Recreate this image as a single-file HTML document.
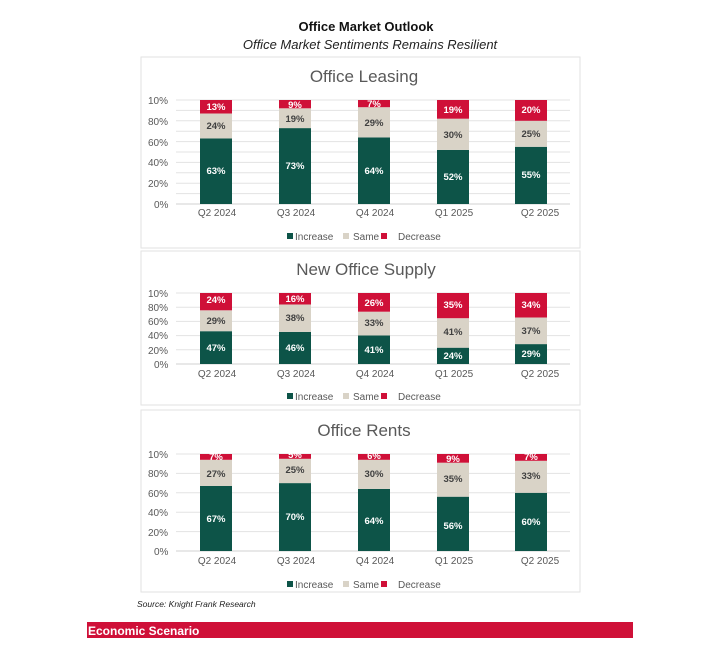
<!DOCTYPE html>
<html><head><meta charset="utf-8"><style>
html,body{margin:0;padding:0;background:#fff;}
svg{display:block;font-family:"Liberation Sans",sans-serif;}
.ax{font-size:10px;fill:#595959;}
.cat{font-size:10px;fill:#595959;text-anchor:middle;}
.w{font-size:9.5px;font-weight:bold;fill:#fff;text-anchor:middle;}
.d{font-size:9.5px;font-weight:bold;fill:#404040;text-anchor:middle;}
.tt{font-size:17px;fill:#595959;text-anchor:middle;}
.lg{font-size:10px;fill:#595959;}
.g{stroke:#e3e3e3;stroke-width:1;}
</style></head><body>
<svg width="718" height="645" viewBox="0 0 718 645">
<text x="366" y="31" text-anchor="middle" font-size="13" font-weight="bold" fill="#111">Office Market Outlook</text>
<text x="370" y="49" text-anchor="middle" font-size="13" font-style="italic" fill="#222">Office Market Sentiments Remains Resilient</text>

<!-- Panel 1 -->
<rect x="141" y="57" width="439" height="191" fill="#fff" stroke="#e2e2e2"/>
<text class="tt" x="364" y="82">Office Leasing</text>
<g class="g">
<line x1="176" x2="570" y1="100" y2="100"/><line x1="176" x2="570" y1="110.4" y2="110.4"/><line x1="176" x2="570" y1="120.8" y2="120.8"/><line x1="176" x2="570" y1="131.2" y2="131.2"/><line x1="176" x2="570" y1="141.6" y2="141.6"/><line x1="176" x2="570" y1="152" y2="152"/><line x1="176" x2="570" y1="162.4" y2="162.4"/><line x1="176" x2="570" y1="172.8" y2="172.8"/><line x1="176" x2="570" y1="183.2" y2="183.2"/><line x1="176" x2="570" y1="193.6" y2="193.6"/><line x1="176" x2="570" y1="204" y2="204" stroke="#d0d0d0"/>
</g>
<text class="ax" x="148" y="104">10%</text><text class="ax" x="148" y="125">80%</text><text class="ax" x="148" y="146">60%</text><text class="ax" x="148" y="166">40%</text><text class="ax" x="148" y="187">20%</text><text class="ax" x="154" y="208">0%</text>
<rect x="200" y="138.5" width="32" height="65.5" fill="#0d5448"/><rect x="200" y="113.5" width="32" height="25" fill="#d9d3c7"/><rect x="200" y="100" width="32" height="13.5" fill="#cf1038"/>
<rect x="279" y="128.1" width="32" height="75.9" fill="#0d5448"/><rect x="279" y="108.3" width="32" height="19.8" fill="#d9d3c7"/><rect x="279" y="100" width="32" height="8.3" fill="#cf1038"/>
<rect x="358" y="137.4" width="32" height="66.6" fill="#0d5448"/><rect x="358" y="107.2" width="32" height="30.2" fill="#d9d3c7"/><rect x="358" y="100" width="32" height="7.2" fill="#cf1038"/>
<rect x="437" y="149.9" width="32" height="54.1" fill="#0d5448"/><rect x="437" y="118.7" width="32" height="31.2" fill="#d9d3c7"/><rect x="437" y="100" width="32" height="18.7" fill="#cf1038"/>
<rect x="515" y="146.8" width="32" height="57.2" fill="#0d5448"/><rect x="515" y="120.8" width="32" height="26" fill="#d9d3c7"/><rect x="515" y="100" width="32" height="20.8" fill="#cf1038"/>
<text class="w" x="216" y="174">63%</text><text class="d" x="216" y="129">24%</text><text class="w" x="216" y="110">13%</text>
<text class="w" x="295" y="169">73%</text><text class="d" x="295" y="122">19%</text><text class="w" x="295" y="108">9%</text>
<text class="w" x="374" y="174">64%</text><text class="d" x="374" y="126">29%</text><text class="w" x="374" y="107">7%</text>
<text class="w" x="453" y="180">52%</text><text class="d" x="453" y="138">30%</text><text class="w" x="453" y="113">19%</text>
<text class="w" x="531" y="178">55%</text><text class="d" x="531" y="137">25%</text><text class="w" x="531" y="113">20%</text>
<text class="cat" x="217" y="216">Q2 2024</text><text class="cat" x="296" y="216">Q3 2024</text><text class="cat" x="375" y="216">Q4 2024</text><text class="cat" x="454" y="216">Q1 2025</text><text class="cat" x="540" y="216">Q2 2025</text>
<g><rect x="287" y="233" width="6" height="6" fill="#0d5448"/><text class="lg" x="295" y="240">Increase</text><rect x="343" y="233" width="6" height="6" fill="#d9d3c7"/><text class="lg" x="353" y="240">Same</text><rect x="381" y="233" width="6" height="6" fill="#cf1038"/><text class="lg" x="398" y="240">Decrease</text></g>

<!-- Panel 2 -->
<rect x="141" y="251" width="439" height="154" fill="#fff" stroke="#e2e2e2"/>
<text class="tt" x="366" y="275">New Office Supply</text>
<g class="g">
<line x1="176" x2="570" y1="293" y2="293"/><line x1="176" x2="570" y1="307.2" y2="307.2"/><line x1="176" x2="570" y1="321.4" y2="321.4"/><line x1="176" x2="570" y1="335.6" y2="335.6"/><line x1="176" x2="570" y1="349.8" y2="349.8"/><line x1="176" x2="570" y1="364" y2="364" stroke="#d0d0d0"/>
</g>
<text class="ax" x="148" y="297">10%</text><text class="ax" x="148" y="311">80%</text><text class="ax" x="148" y="325">60%</text><text class="ax" x="148" y="339">40%</text><text class="ax" x="148" y="354">20%</text><text class="ax" x="154" y="368">0%</text>
<rect x="200" y="331.2" width="32" height="32.8" fill="#0d5448"/><rect x="200" y="310.3" width="32" height="20.9" fill="#d9d3c7"/><rect x="200" y="293" width="32" height="17.3" fill="#cf1038"/>
<rect x="279" y="331.9" width="32" height="32.1" fill="#0d5448"/><rect x="279" y="304.5" width="32" height="27.4" fill="#d9d3c7"/><rect x="279" y="293" width="32" height="11.5" fill="#cf1038"/>
<rect x="358" y="335.5" width="32" height="28.5" fill="#0d5448"/><rect x="358" y="311.7" width="32" height="23.8" fill="#d9d3c7"/><rect x="358" y="293" width="32" height="18.7" fill="#cf1038"/>
<rect x="437" y="347.7" width="32" height="16.3" fill="#0d5448"/><rect x="437" y="318.2" width="32" height="29.5" fill="#d9d3c7"/><rect x="437" y="293" width="32" height="25.2" fill="#cf1038"/>
<rect x="515" y="344.1" width="32" height="19.9" fill="#0d5448"/><rect x="515" y="317.5" width="32" height="26.6" fill="#d9d3c7"/><rect x="515" y="293" width="32" height="24.5" fill="#cf1038"/>
<text class="w" x="216" y="351">47%</text><text class="d" x="216" y="324">29%</text><text class="w" x="216" y="303">24%</text>
<text class="w" x="295" y="351">46%</text><text class="d" x="295" y="321">38%</text><text class="w" x="295" y="302">16%</text>
<text class="w" x="374" y="353">41%</text><text class="d" x="374" y="326">33%</text><text class="w" x="374" y="306">26%</text>
<text class="w" x="453" y="359">24%</text><text class="d" x="453" y="335">41%</text><text class="w" x="453" y="308">35%</text>
<text class="w" x="531" y="357">29%</text><text class="d" x="531" y="334">37%</text><text class="w" x="531" y="308">34%</text>
<text class="cat" x="217" y="377">Q2 2024</text><text class="cat" x="296" y="377">Q3 2024</text><text class="cat" x="375" y="377">Q4 2024</text><text class="cat" x="454" y="377">Q1 2025</text><text class="cat" x="540" y="377">Q2 2025</text>
<g><rect x="287" y="393" width="6" height="6" fill="#0d5448"/><text class="lg" x="295" y="400">Increase</text><rect x="343" y="393" width="6" height="6" fill="#d9d3c7"/><text class="lg" x="353" y="400">Same</text><rect x="381" y="393" width="6" height="6" fill="#cf1038"/><text class="lg" x="398" y="400">Decrease</text></g>

<!-- Panel 3 -->
<rect x="141" y="410" width="439" height="182" fill="#fff" stroke="#e2e2e2"/>
<text class="tt" x="364" y="436">Office Rents</text>
<g class="g">
<line x1="176" x2="570" y1="454" y2="454"/><line x1="176" x2="570" y1="473.4" y2="473.4"/><line x1="176" x2="570" y1="492.8" y2="492.8"/><line x1="176" x2="570" y1="512.2" y2="512.2"/><line x1="176" x2="570" y1="531.6" y2="531.6"/><line x1="176" x2="570" y1="551" y2="551" stroke="#d0d0d0"/>
</g>
<text class="ax" x="148" y="458">10%</text><text class="ax" x="148" y="477">80%</text><text class="ax" x="148" y="497">60%</text><text class="ax" x="148" y="516">40%</text><text class="ax" x="148" y="536">20%</text><text class="ax" x="154" y="555">0%</text>
<rect x="200" y="486" width="32" height="65" fill="#0d5448"/><rect x="200" y="459.8" width="32" height="26.2" fill="#d9d3c7"/><rect x="200" y="454" width="32" height="5.8" fill="#cf1038"/>
<rect x="279" y="483.1" width="32" height="67.9" fill="#0d5448"/><rect x="279" y="458.8" width="32" height="24.3" fill="#d9d3c7"/><rect x="279" y="454" width="32" height="4.8" fill="#cf1038"/>
<rect x="358" y="488.9" width="32" height="62.1" fill="#0d5448"/><rect x="358" y="459.8" width="32" height="29.1" fill="#d9d3c7"/><rect x="358" y="454" width="32" height="5.8" fill="#cf1038"/>
<rect x="437" y="496.7" width="32" height="54.3" fill="#0d5448"/><rect x="437" y="462.7" width="32" height="34" fill="#d9d3c7"/><rect x="437" y="454" width="32" height="8.7" fill="#cf1038"/>
<rect x="515" y="492.8" width="32" height="58.2" fill="#0d5448"/><rect x="515" y="460.8" width="32" height="32" fill="#d9d3c7"/><rect x="515" y="454" width="32" height="6.8" fill="#cf1038"/>
<text class="w" x="216" y="522">67%</text><text class="d" x="216" y="477">27%</text><text class="w" x="216" y="460">7%</text>
<text class="w" x="295" y="520">70%</text><text class="d" x="295" y="473">25%</text><text class="w" x="295" y="458">5%</text>
<text class="w" x="374" y="524">64%</text><text class="d" x="374" y="477">30%</text><text class="w" x="374" y="459">6%</text>
<text class="w" x="453" y="529">56%</text><text class="d" x="453" y="482">35%</text><text class="w" x="453" y="462">9%</text>
<text class="w" x="531" y="525">60%</text><text class="d" x="531" y="479">33%</text><text class="w" x="531" y="460">7%</text>
<text class="cat" x="217" y="564">Q2 2024</text><text class="cat" x="296" y="564">Q3 2024</text><text class="cat" x="375" y="564">Q4 2024</text><text class="cat" x="454" y="564">Q1 2025</text><text class="cat" x="540" y="564">Q2 2025</text>
<g><rect x="287" y="581" width="6" height="6" fill="#0d5448"/><text class="lg" x="295" y="588">Increase</text><rect x="343" y="581" width="6" height="6" fill="#d9d3c7"/><text class="lg" x="353" y="588">Same</text><rect x="381" y="581" width="6" height="6" fill="#cf1038"/><text class="lg" x="398" y="588">Decrease</text></g>

<text x="137" y="607" font-size="8.5" font-style="italic" fill="#222">Source: Knight Frank Research</text>
<rect x="87" y="622" width="546" height="16" fill="#cf1038"/>
<text x="88" y="635" font-size="12" font-weight="bold" fill="#fff">Economic Scenario</text>
</svg>
</body></html>
